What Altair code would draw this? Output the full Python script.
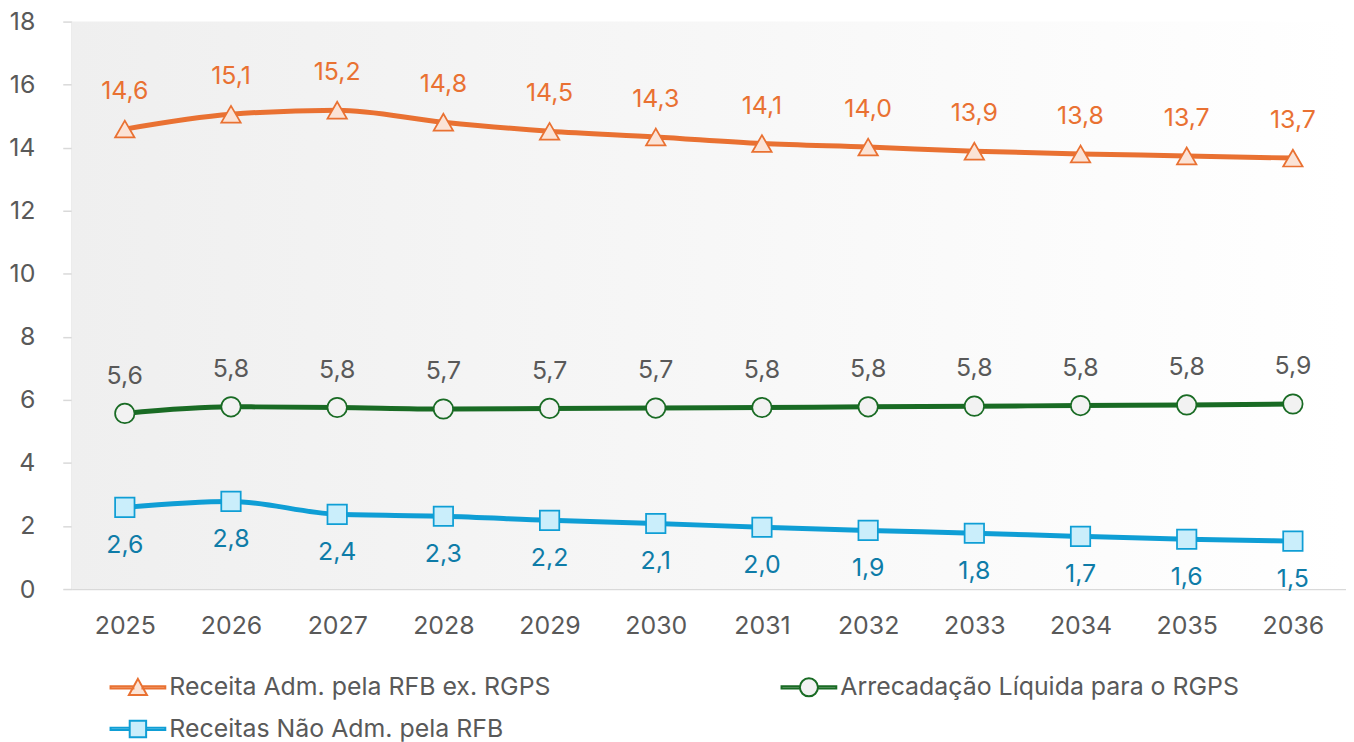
import altair as alt
import pandas as pd

years = ["2025", "2026", "2027", "2028", "2029", "2030", "2031", "2032", "2033", "2034", "2035", "2036"]
receita_adm = [14.59, 15.06, 15.19, 14.81, 14.52, 14.34, 14.13, 14.02, 13.89, 13.80, 13.74, 13.67]
arrecadacao = [5.57, 5.78, 5.76, 5.71, 5.73, 5.74, 5.76, 5.78, 5.80, 5.82, 5.84, 5.87]
nao_adm = [2.59, 2.78, 2.37, 2.31, 2.18, 2.08, 1.96, 1.86, 1.77, 1.67, 1.58, 1.52]

series_names = [
    "Receita Adm. pela RFB ex. RGPS",
    "Arrecadação Líquida para o RGPS",
    "Receitas Não Adm. pela RFB",
]
series_values = [receita_adm, arrecadacao, nao_adm]
line_colors = ["#E97132", "#196B24", "#0F9ED5"]
marker_fills = ["#FBE3D6", "#F2F2F2", "#CAEEFB"]
marker_shapes = ["triangle-up", "circle", "square"]
label_colors = ["#E97132", "#595959", "#0E7CA8"]
label_dy = [-38, -38, 38]
y_ticks = [0, 2, 4, 6, 8, 10, 12, 14, 16, 18]

FONT = "Inter"
FS = 25
GREY = "#595959"
AXIS_GREY = "#D9D9D9"

rows = []
for name, vals in zip(series_names, series_values):
    for yr, v in zip(years, vals):
        rows.append({"year": yr, "series": name, "value": v,
                     "label": f"{v:.1f}".replace(".", ",")})
df = pd.DataFrame(rows)

# legend symbols: line stub + marker (units of half symbol width)
legend_paths = [
    "M-1,-0.04L-0.165,-0.04L-0.165,0.04L-1,0.04Z M0.165,-0.04L1,-0.04L1,0.04L0.165,0.04Z "
    "M0,-0.31L0.33,0.28L-0.33,0.28Z",
    "M-1,-0.04L-0.33,-0.04L-0.33,0.04L-1,0.04Z M0.33,-0.04L1,-0.04L1,0.04L0.33,0.04Z "
    "M-0.33,0A0.33,0.33 0 1,0 0.33,0A0.33,0.33 0 1,0 -0.33,0Z",
    "M-1,-0.04L-0.3,-0.04L-0.3,0.04L-1,0.04Z M0.3,-0.04L1,-0.04L1,0.04L0.3,0.04Z "
    "M-0.3,-0.3L0.3,-0.3L0.3,0.3L-0.3,0.3Z",
]

x_enc = alt.X("year:O", sort=years,
              scale=alt.Scale(type="point", padding=0.5),
              axis=alt.Axis(title=None, labelAngle=0, labelFont=FONT, labelFontSize=FS,
                            labelColor=GREY, ticks=False, domainColor=AXIS_GREY,
                            domainWidth=1.5, labelPadding=25, grid=False))
y_enc = alt.Y("value:Q", scale=alt.Scale(domain=[0, 18], nice=False),
              axis=alt.Axis(title=None, values=y_ticks, labelFont=FONT, labelFontSize=FS,
                            labelColor=GREY, tickColor=AXIS_GREY, tickSize=9, tickWidth=1.5,
                            domainColor=AXIS_GREY, domainWidth=1.5, labelPadding=28,
                            grid=False))

gradient = alt.Gradient(
    gradient="linear",
    stops=[alt.GradientStop(color="#EFEFEF", offset=0),
           alt.GradientStop(color="#FFFFFF", offset=1)],
    x1=0, x2=1, y1=0, y2=0,
)
bg = alt.Chart(alt.Data(values=[{}])).mark_rect(fill=gradient).encode(
    x=alt.value(0), x2=alt.value("width"), y=alt.value(0), y2=alt.value("height")
)

base = alt.Chart(df)

lines = base.mark_line(strokeWidth=5, interpolate="monotone").encode(
    x=x_enc, y=y_enc,
    color=alt.Color("series:N", scale=alt.Scale(domain=series_names, range=line_colors),
                    legend=None),
)

markers = base.mark_point(filled=True, size=380, strokeWidth=1.75, opacity=1).encode(
    x=x_enc, y=y_enc,
    shape=alt.Shape("series:N", scale=alt.Scale(domain=series_names, range=marker_shapes),
                    legend=None),
    fill=alt.Fill("series:N", scale=alt.Scale(domain=series_names, range=marker_fills),
                  legend=None),
    stroke=alt.Stroke("series:N", scale=alt.Scale(domain=series_names, range=line_colors),
                      legend=None),
)

texts = []
for name, col, dy in zip(series_names, label_colors, label_dy):
    texts.append(
        base.transform_filter(alt.datum.series == name)
        .mark_text(font=FONT, fontSize=FS, color=col, dy=dy, baseline="middle")
        .encode(x=x_enc, y=y_enc, text="label:N")
    )

leg = alt.Legend(title=None, orient="none", legendX=38, legendY=640, columns=2,
                 direction="horizontal",
                 columnPadding=227, rowPadding=-9, symbolSize=3025, symbolStrokeWidth=2,
                 labelFont=FONT, labelFontSize=FS, labelColor=GREY, labelOffset=3,
                 labelLimit=0)
legend_layer = base.transform_filter("false").mark_point(
    filled=True, strokeWidth=2, opacity=1
).encode(
    shape=alt.Shape("series:N", scale=alt.Scale(domain=series_names, range=legend_paths),
                    legend=leg),
    fill=alt.Fill("series:N", scale=alt.Scale(domain=series_names, range=marker_fills),
                  legend=leg),
    stroke=alt.Stroke("series:N", scale=alt.Scale(domain=series_names, range=line_colors),
                      legend=leg),
)

chart = alt.layer(bg, lines, markers, *texts, legend_layer).resolve_scale(
    shape="independent", fill="independent", stroke="independent"
).properties(
    width=1280, height=570,
    padding={"left": 0, "top": 0, "right": 0, "bottom": 0},
).configure_view(stroke=None)

chart.save("out.html", embed_options={"renderer": "svg", "actions": False})
